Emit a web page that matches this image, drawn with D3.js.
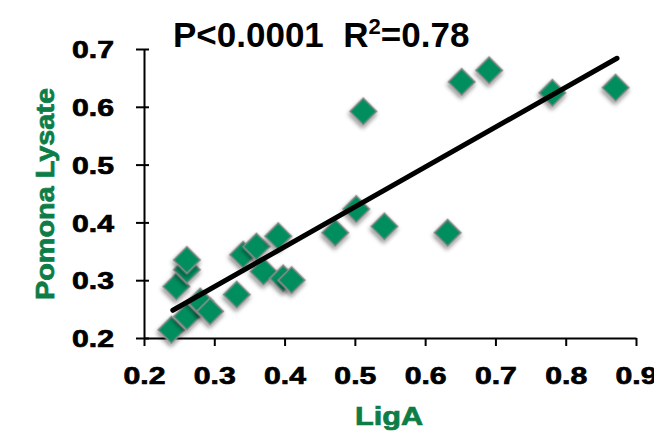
<!DOCTYPE html>
<html>
<head>
<meta charset="utf-8">
<script src="https://cdn.jsdelivr.net/npm/d3@7/dist/d3.min.js"></script>
<style>
  html, body { margin: 0; padding: 0; background: #fff; }
  svg { display: block; }
  text { font-family: "Liberation Sans", Arial, sans-serif; font-weight: bold; white-space: pre; }
</style>
</head>
<body>
<svg id="chart" width="654" height="433"></svg>
<script>
// ---- data ----
const ligA = [0.239, 0.261, 0.280, 0.294, 0.246, 0.261, 0.261, 0.332, 0.341, 0.360, 0.391, 0.370, 0.398, 0.410,
              0.512, 0.652, 0.691, 0.781, 0.871, 0.502, 0.472, 0.542, 0.632];
const pomona = [0.214, 0.237, 0.263, 0.246, 0.289, 0.318, 0.335, 0.275, 0.344, 0.358, 0.376, 0.315, 0.303, 0.300,
                0.592, 0.643, 0.663, 0.624, 0.633, 0.423, 0.382, 0.393, 0.382];
const trendX = [0.241, 0.873];
const trendY = [0.248, 0.684];
const xTicks = [0.2, 0.3, 0.4, 0.5, 0.6, 0.7, 0.8, 0.9];
const yTicks = [0.2, 0.3, 0.4, 0.5, 0.6, 0.7];
const titleMain = "P<0.0001  R";
const titleSup = "2";
const titleEnd = "=0.78";
const xTitle = "LigA";
const yTitle = "Pomona Lysate";

// ---- layout ----
const svg = d3.select("#chart");
const mLeft = 144, mRight = 636, mTop = 49, mBottom = 338;
const x = d3.scaleLinear().domain([0.2, 0.9]).range([mLeft, mRight]);
const y = d3.scaleLinear().domain([0.2, 0.7]).range([mBottom, mTop]);
const green = "#0c7d46";
const fill = "#008e5f";

const defs = svg.append("defs");
const f = defs.append("filter").attr("id", "shadow").attr("x", "-50%").attr("y", "-50%").attr("width", "200%").attr("height", "200%");
f.append("feDropShadow").attr("dx", 1.5).attr("dy", 2.5).attr("stdDeviation", 2)
  .attr("flood-color", "#000").attr("flood-opacity", 0.45);

// axes
const xAxis = d3.axisBottom(x).tickValues(xTicks).tickSize(8).tickSizeOuter(0).tickFormat(d3.format(".1f"));
const gx = svg.append("g").attr("transform", `translate(0,${mBottom})`).call(xAxis);
gx.select(".domain").attr("stroke", "#000").attr("stroke-width", 2);
gx.selectAll(".tick line").attr("stroke", "#000").attr("stroke-width", 2);
gx.selectAll(".tick text").attr("font-size", 24).attr("fill", "#000").attr("dy", null).attr("y", 46)
  .attr("stroke", "#000").attr("stroke-width", 0.7)
  .attr("textLength", 42).attr("lengthAdjust", "spacingAndGlyphs");

const yAxis = d3.axisLeft(y).tickValues(yTicks).tickSize(8).tickSizeOuter(0).tickFormat(d3.format(".1f"));
const gy = svg.append("g").attr("transform", `translate(${mLeft},0)`).call(yAxis);
gy.select(".domain").attr("stroke", "#000").attr("stroke-width", 2);
gy.selectAll(".tick line").attr("stroke", "#000").attr("stroke-width", 2).attr("x1", 5);
gy.selectAll(".tick text").attr("font-size", 24).attr("fill", "#000").attr("x", -30).attr("dy", "0.36em")
  .attr("stroke", "#000").attr("stroke-width", 0.7)
  .attr("textLength", 42).attr("lengthAdjust", "spacingAndGlyphs");

// points
const sym = d3.symbol().type(d3.symbolSquare).size(360);
const pts = ligA.map((v, i) => [v, pomona[i]]);
svg.append("g").selectAll("path").data(pts).join("path")
  .attr("d", sym)
  .attr("transform", d => `translate(${x(d[0])},${y(d[1])}) rotate(45)`)
  .attr("fill", fill)
  .attr("stroke", "#8c8c8c")
  .attr("stroke-width", 1.5)
  .attr("filter", "url(#shadow)");

// trend line
svg.append("line")
  .attr("x1", x(trendX[0])).attr("y1", y(trendY[0]))
  .attr("x2", x(trendX[1])).attr("y2", y(trendY[1]))
  .attr("stroke", "#000").attr("stroke-width", 5).attr("stroke-linecap", "round");

// title
const t = svg.append("text").attr("x", 173).attr("y", 47).attr("font-size", 35).attr("fill", "#000")
  .attr("xml:space", "preserve");
t.append("tspan").text(titleMain);
t.append("tspan").text(titleSup).attr("font-size", 22).attr("dy", -13);
t.append("tspan").text(titleEnd).attr("dy", 13);

// axis titles
svg.append("text").attr("x", 389).attr("y", 425).attr("text-anchor", "middle")
  .attr("font-size", 25).attr("fill", green).attr("stroke", green).attr("stroke-width", 0.7).text(xTitle)
  .attr("textLength", 68).attr("lengthAdjust", "spacingAndGlyphs");
svg.append("text").attr("transform", "translate(54,194) rotate(-90)").attr("text-anchor", "middle")
  .attr("font-size", 25).attr("fill", green).attr("stroke", green).attr("stroke-width", 0.7).text(yTitle)
  .attr("textLength", 212).attr("lengthAdjust", "spacingAndGlyphs");
</script>
</body>
</html>
